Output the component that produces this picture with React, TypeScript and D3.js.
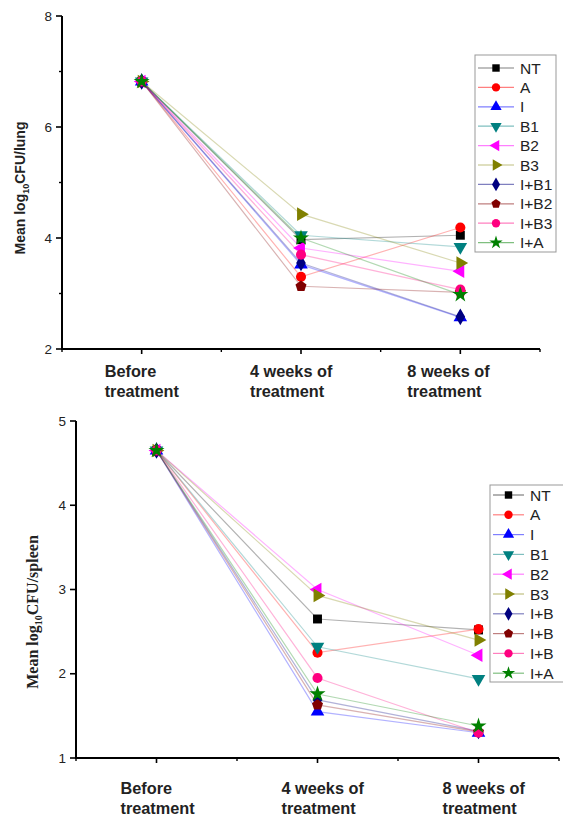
import React from "react";
import * as d3 from "d3";

const categories = ["Before treatment", "4 weeks of treatment", "8 weeks of treatment"];
const categoryLines = [["Before", "treatment"], ["4 weeks of", "treatment"], ["8 weeks of", "treatment"]];

const seriesNames = ["NT", "A", "I", "B1", "B2", "B3", "I+B1", "I+B2", "I+B3", "I+A"];
const legendNamesSpleen = ["NT", "A", "I", "B1", "B2", "B3", "I+B", "I+B", "I+B", "I+A"];
const seriesColors = ["#000000", "#ff0000", "#0000ff", "#008080", "#ff00ff", "#808000", "#000080", "#800000", "#ff0080", "#008000"];
const seriesShapes = ["square", "circle", "triUp", "triDown", "triLeft", "triRight", "diamond", "pentagon", "circle", "star"];

const lungValues = [
  [6.82, 3.97, 4.05],
  [6.82, 3.30, 4.19],
  [6.82, 3.52, 2.57],
  [6.82, 4.05, 3.84],
  [6.82, 3.82, 3.40],
  [6.82, 4.43, 3.55],
  [6.82, 3.55, 2.58],
  [6.82, 3.13, 3.02],
  [6.82, 3.70, 3.07],
  [6.82, 4.00, 2.98],
];

const spleenValues = [
  [4.65, 2.65, 2.52],
  [4.65, 2.25, 2.53],
  [4.65, 1.55, 1.30],
  [4.65, 2.32, 1.94],
  [4.65, 3.00, 2.22],
  [4.65, 2.93, 2.40],
  [4.65, 1.69, 1.32],
  [4.65, 1.63, 1.31],
  [4.65, 1.95, 1.30],
  [4.65, 1.76, 1.38],
];

const lungMajorTicks = [2, 4, 6, 8];
const lungMinorTicks = [3, 5, 7];
const spleenMajorTicks = [1, 2, 3, 4, 5];

// left offset of each category's label block relative to its tick (layout)
const lungLabelOffsets = [-37, -51, -53];
const spleenLabelOffsets = [-36, -36, -36];

const pentagon = {
  draw(ctx: any, size: number) {
    const r = Math.sqrt(size / 2.378);
    for (let i = 0; i < 5; i++) {
      const a = -Math.PI / 2 + (i * 2 * Math.PI) / 5;
      const x = r * Math.cos(a);
      const y = r * Math.sin(a);
      if (i === 0) ctx.moveTo(x, y);
      else ctx.lineTo(x, y);
    }
    ctx.closePath();
  },
};

function markerPath(shape: string, size: number) {
  switch (shape) {
    case "square":
      return { d: d3.symbol(d3.symbolSquare, size)()!, rot: 0 };
    case "circle":
      return { d: d3.symbol(d3.symbolCircle, size)()!, rot: 0 };
    case "triUp":
      return { d: d3.symbol(d3.symbolTriangle, size)()!, rot: 0 };
    case "triDown":
      return { d: d3.symbol(d3.symbolTriangle, size)()!, rot: 180 };
    case "triLeft":
      return { d: d3.symbol(d3.symbolTriangle, size)()!, rot: -90 };
    case "triRight":
      return { d: d3.symbol(d3.symbolTriangle, size)()!, rot: 90 };
    case "diamond":
      return { d: d3.symbol(d3.symbolDiamond, size)()!, rot: 0 };
    case "pentagon":
      return { d: d3.symbol(pentagon as any, size)()!, rot: 0 };
    case "star":
      return { d: d3.symbol(d3.symbolStar, size)()!, rot: 0 };
  }
  return { d: "", rot: 0 };
}

function Marker({ shape, color, x, y, size }: any) {
  const m = markerPath(shape, size);
  return <path d={m.d} fill={color} transform={`translate(${x},${y}) rotate(${m.rot})`} />;
}

type PanelProps = {
  values: number[][];
  domain: [number, number];
  xRange: [number, number];
  yRange: [number, number];
  majorTicks: number[];
  minorTicks: number[];
  title: React.ReactNode;
  titleX: number;
  titleY: number;
  titleFont: string;
  titleSize: number;
  labelY: number;
  labelOffsets: number[];
  legend: { x: number; y: number; w: number; h: number; first: number; step: number; names: string[]; lineX: number; textX: number };
};

function Panel(p: PanelProps) {
  const x = d3.scalePoint<string>().domain(categories).range(p.xRange).padding(0.5);
  const y = d3.scaleLinear().domain(p.domain).range(p.yRange);
  const step = x.step();
  const line = d3
    .line<number>()
    .x((_, i) => x(categories[i])!)
    .y((v) => y(v));
  const x0 = p.xRange[0];
  const yBase = p.yRange[0];
  const boundaries = d3.range(categories.length + 1).map((i) => x0 + i * step);
  return (
    <g>
      {p.values.map((vals, s) => (
        <path key={"l" + s} d={line(vals)!} fill="none" stroke={seriesColors[s]} strokeOpacity={0.3} strokeWidth={1.2} />
      ))}
      {p.values.map((vals, s) =>
        vals.map((v, i) => (
          <Marker key={"m" + s + "-" + i} shape={seriesShapes[s]} color={seriesColors[s]} x={x(categories[i])} y={y(v)} size={80} />
        ))
      )}
      <line x1={x0} x2={x0} y1={p.yRange[1]} y2={yBase + 1} stroke="#000" strokeWidth={2} />
      {p.majorTicks.map((t) => (
        <g key={"yt" + t}>
          <line x1={x0 - 6} x2={x0} y1={y(t)} y2={y(t)} stroke="#000" strokeWidth={1.6} />
          <text x={x0 - 10} y={y(t)} dy="0.35em" textAnchor="end" fontFamily="Liberation Sans, Arial, sans-serif" fontSize={13.5} fill="#222">
            {t}
          </text>
        </g>
      ))}
      {p.minorTicks.map((t) => (
        <line key={"ym" + t} x1={x0 - 3} x2={x0} y1={y(t)} y2={y(t)} stroke="#000" strokeWidth={1.4} />
      ))}
      <line x1={x0 - 1} x2={p.xRange[1]} y1={yBase} y2={yBase} stroke="#000" strokeWidth={2} />
      {categories.map((c) => (
        <line key={"xt" + c} x1={x(c)} x2={x(c)} y1={yBase} y2={yBase + 5} stroke="#000" strokeWidth={1.6} />
      ))}
      {boundaries.map((b, i) => (
        <line key={"xb" + i} x1={b} x2={b} y1={yBase} y2={yBase + 3} stroke="#000" strokeWidth={1.4} />
      ))}
      {categories.map((c, i) => (
        <text key={"xl" + c} y={p.labelY} fontFamily="Liberation Sans, Arial, sans-serif" fontSize={16.3} fontWeight="bold" fill="#222">
          <tspan x={x(c)! + p.labelOffsets[i]} dy="0">{categoryLines[i][0]}</tspan>
          <tspan x={x(c)! + p.labelOffsets[i]} dy="20">{categoryLines[i][1]}</tspan>
        </text>
      ))}
      <text transform={`translate(${p.titleX},${p.titleY}) rotate(-90)`} textAnchor="middle" fontFamily={p.titleFont} fontSize={p.titleSize} fontWeight="bold" fill="#222">
        {p.title}
      </text>
      <rect x={p.legend.x} y={p.legend.y} width={p.legend.w} height={p.legend.h} fill="#fff" stroke="#999" strokeWidth={1} />
      {seriesNames.map((n, s) => {
        const ly = p.legend.first + s * p.legend.step;
        const mx = (p.legend.lineX + p.legend.textX - 6) / 2;
        return (
          <g key={"lg" + s}>
            <line x1={p.legend.lineX} x2={p.legend.textX - 6} y1={ly} y2={ly} stroke={seriesColors[s]} strokeOpacity={0.5} strokeWidth={1.2} />
            <Marker shape={seriesShapes[s]} color={seriesColors[s]} x={mx} y={ly} size={55} />
            <text x={p.legend.textX} y={ly} dy="0.36em" fontFamily="Liberation Sans, Arial, sans-serif" fontSize={15.5} fill="#222">
              {p.legend.names[s]}
            </text>
          </g>
        );
      })}
    </g>
  );
}

export default function App() {
  return (
    <svg width={563} height={819} style={{ position: "absolute", left: 0, top: 0, background: "#fff" }}>
      <rect width={563} height={819} fill="#fff" />
      <Panel
        values={lungValues}
        domain={[2, 8]}
        xRange={[62, 540]}
        yRange={[349, 16]}
        majorTicks={lungMajorTicks}
        minorTicks={lungMinorTicks}
        title={
          <>
            Mean log<tspan fontSize={9} dy="4">10</tspan>
            <tspan dy="-4">CFU/lung</tspan>
          </>
        }
        titleX={25}
        titleY={188}
        titleFont="Liberation Sans, Arial, sans-serif"
        titleSize={14}
        labelY={377}
        labelOffsets={lungLabelOffsets}
        legend={{ x: 475, y: 55, w: 81, h: 197, first: 68, step: 19.4, names: seriesNames, lineX: 478, textX: 520 }}
      />
      <Panel
        values={spleenValues}
        domain={[1, 5]}
        xRange={[76, 559]}
        yRange={[758, 421]}
        majorTicks={spleenMajorTicks}
        minorTicks={[]}
        title={
          <>
            Mean log<tspan fontSize={10} dy="4">10</tspan>
            <tspan dy="-4">CFU/spleen</tspan>
          </>
        }
        titleX={38}
        titleY={612}
        titleFont="Liberation Serif, Times New Roman, serif"
        titleSize={16}
        labelY={794}
        labelOffsets={spleenLabelOffsets}
        legend={{ x: 490, y: 485, w: 80, h: 197, first: 495, step: 19.8, names: legendNamesSpleen, lineX: 493, textX: 530 }}
      />
    </svg>
  );
}
